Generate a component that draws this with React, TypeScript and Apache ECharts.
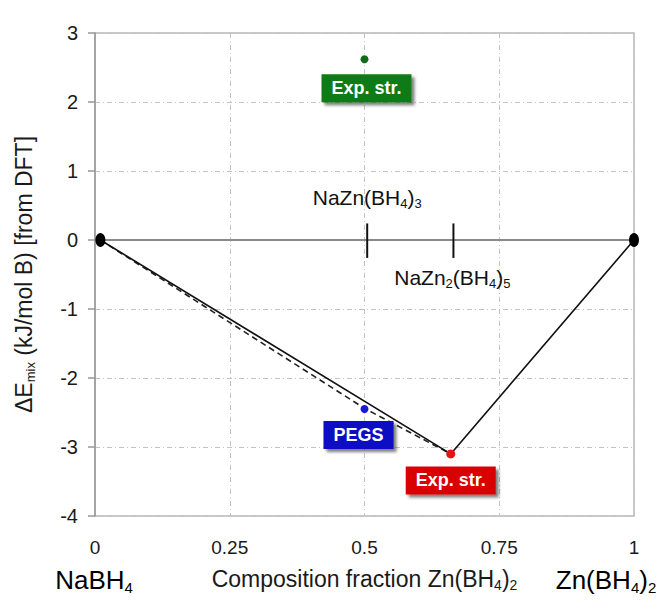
import React, { useEffect, useRef } from "react";
import * as echarts from "echarts";

// ---- data ----
const hullX = [0.01, 0.66, 1];
const hullY = [0, -3.1, 0];
const pegsHullX = [0.01, 0.5, 0.66];
const pegsHullY = [0, -2.44, -3.1];
const endX = [0.01, 1];
const endY = [0, 0];
const compoundX = [0.505, 0.665];
const compoundTickTop = 0.24;
const compoundTickBottom = -0.26;
const compoundLabels = ["NaZn(BH4)3", "NaZn2(BH4)5"];
const compoundLabelX = [0.505, 0.663];
const compoundLabelY = [0.62, -0.54];
const expHigh = [0.5, 2.62];
const pegsPoint = [0.5, -2.45];
const expLow = [0.66, -3.1];
const yMin = -4;
const yMax = 3;
const xTicks = [0, 0.25, 0.5, 0.75, 1];

const FONT = "'Liberation Sans', Arial, sans-serif";

const richBase = (size: number, sub: number, color = "#1a1a1a") => ({
  m: { fontSize: size, fontFamily: FONT, color, lineHeight: size + 4 },
  s: {
    fontSize: sub,
    fontFamily: FONT,
    color,
    lineHeight: sub,
    verticalAlign: "bottom",
  },
});

// convert "NaZn2(BH4)5" style chemical formula to rich text with subscripts
const chem = (f: string) => {
  let out = "";
  let buf = "";
  let prev = "";
  for (const ch of f) {
    const isDigit = /[0-9]/.test(ch);
    if (isDigit && /[A-Za-z)]/.test(prev)) {
      if (buf) out += `{m|${buf}}`;
      buf = "";
      out += `{s|${ch}}`;
    } else {
      buf += ch;
    }
    prev = ch;
  }
  if (buf) out += `{m|${buf}}`;
  return out;
};

const boxLabel = (text: string, bg: string, offset: number[], dist: number) => ({
  show: true,
  position: "bottom",
  distance: dist,
  offset,
  formatter: text,
  color: "#fff",
  fontWeight: "bold",
  fontSize: 18,
  fontFamily: FONT,
  lineHeight: 20,
  backgroundColor: bg,
  padding: [4, 10, 4, 10],
  shadowColor: "rgba(0,0,0,0.5)",
  shadowBlur: 3,
  shadowOffsetX: 3,
  shadowOffsetY: 3,
});

export default function App() {
  const ref = useRef<HTMLDivElement>(null);
  useEffect(() => {
    if (!ref.current) return;
    const chart = echarts.init(ref.current, undefined, { renderer: "svg" });
    const tickSeries = compoundX.map((x) => ({
      type: "line",
      data: [
        [x, compoundTickTop],
        [x, compoundTickBottom],
      ],
      symbol: "none",
      lineStyle: { color: "#111", width: 2 },
      z: 4,
    }));
    chart.setOption({
      animation: false,
      backgroundColor: "#fff",
      grid: {
        left: 95,
        right: 26,
        top: 33,
        bottom: 95,
        show: true,
        borderColor: "#b8b8b8",
        borderWidth: 1.5,
      },
      xAxis: {
        type: "value",
        min: xTicks[0],
        max: xTicks[xTicks.length - 1],
        interval: 0.25,
        axisLine: { show: true, lineStyle: { color: "#999", width: 1.5 } },
        axisTick: { show: false },
        axisLabel: {
          margin: 22,
          fontSize: 19,
          fontFamily: FONT,
          color: "#1a1a1a",
        },
        splitLine: {
          show: true,
          lineStyle: { color: "#c4c4c4", type: [5, 3, 1, 3], width: 1 },
        },
        name: chem("Composition fraction Zn(BH4)2"),
        nameLocation: "middle",
        nameGap: 49,
        nameTextStyle: { rich: richBase(23, 14) },
      },
      yAxis: {
        type: "value",
        min: yMin,
        max: yMax,
        interval: 1,
        axisLine: { show: true, lineStyle: { color: "#999", width: 1.5 } },
        axisTick: { show: true, length: 7, lineStyle: { color: "#999", width: 1.5 } },
        axisLabel: {
          margin: 17,
          fontSize: 20,
          fontFamily: FONT,
          color: "#1a1a1a",
        },
        splitLine: {
          show: true,
          lineStyle: { color: "#c4c4c4", type: [5, 3, 1, 3], width: 1 },
        },
        name: "{m|ΔE}{s|mix}{m| (kJ/mol B) [from DFT]}",
        nameLocation: "middle",
        nameRotate: 90,
        nameGap: 58,
        nameTextStyle: { rich: richBase(23, 13) },
      },
      graphic: [
        {
          type: "text",
          style: {
            text: chem("NaBH4"),
            rich: richBase(26, 15),
            x: 94,
            y: 580,
            align: "center",
            verticalAlign: "middle",
          },
        },
        {
          type: "text",
          style: {
            text: chem("Zn(BH4)2"),
            rich: richBase(26, 15),
            x: 606,
            y: 580,
            align: "center",
            verticalAlign: "middle",
          },
        },
      ],
      series: [
        {
          type: "line",
          data: [
            [0, 0],
            [1, 0],
          ],
          symbol: "none",
          lineStyle: { color: "#8a8a8a", width: 2 },
          z: 2,
        },
        {
          type: "line",
          data: pegsHullX.map((x, i) => [x, pegsHullY[i]]),
          symbol: "none",
          lineStyle: { color: "#222", width: 1.6, type: [6, 4] },
          z: 3,
        },
        {
          type: "line",
          data: hullX.map((x, i) => [x, hullY[i]]),
          symbol: "none",
          lineStyle: { color: "#111", width: 1.6 },
          z: 3,
        },
        ...tickSeries,
        {
          type: "scatter",
          data: endX.map((x, i) => [x, endY[i]]),
          symbol: "circle",
          symbolSize: [10, 14],
          itemStyle: { color: "#000", opacity: 1 },
          z: 5,
        },
        {
          type: "scatter",
          data: compoundLabelX.map((x, i) => ({
            value: [x, compoundLabelY[i]],
            label: { formatter: chem(compoundLabels[i]) },
          })),
          symbolSize: 0.1,
          itemStyle: { color: "rgba(0,0,0,0)", opacity: 1 },
          label: {
            show: true,
            position: "inside",
            rich: richBase(21, 13, "#111"),
          },
          z: 5,
        },
        {
          type: "scatter",
          data: [expHigh],
          symbolSize: 8,
          itemStyle: { color: "#126b19", opacity: 1 },
          label: boxLabel("Exp. str.", "#107c16", [2, 0], 11),
          z: 6,
        },
        {
          type: "scatter",
          data: [pegsPoint],
          symbolSize: 8,
          itemStyle: { color: "#1a1ad0", opacity: 1 },
          label: boxLabel("PEGS", "#0c0cc4", [-6, 0], 8),
          z: 6,
        },
        {
          type: "scatter",
          data: [expLow],
          symbolSize: 9,
          itemStyle: { color: "#e81414", opacity: 1 },
          label: boxLabel("Exp. str.", "#d80606", [0, 0], 8),
          z: 6,
        },
      ],
    });
    return () => chart.dispose();
  }, []);
  return (
    <div
      ref={ref}
      style={{ position: "fixed", left: 0, top: 0, width: 660, height: 611 }}
    />
  );
}
